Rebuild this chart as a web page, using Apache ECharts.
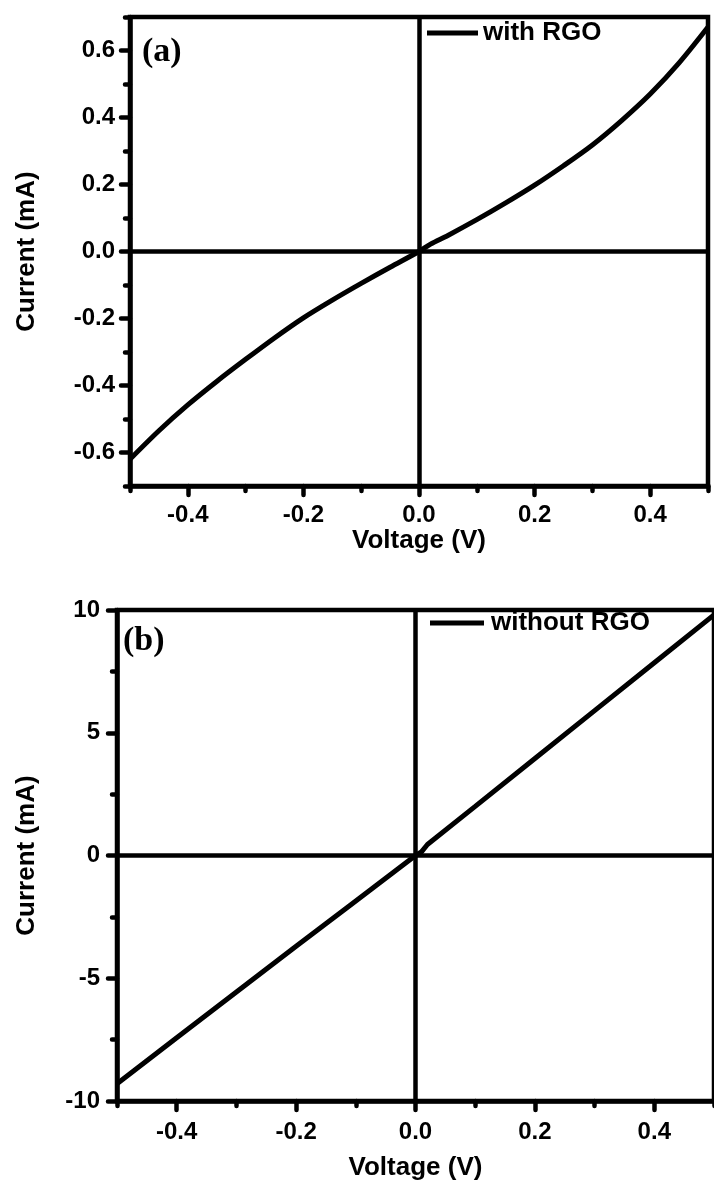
<!DOCTYPE html>
<html>
<head>
<meta charset="utf-8">
<script src="https://cdn.jsdelivr.net/npm/echarts@6/dist/echarts.min.js"></script>
<style>
html,body{margin:0;padding:0;background:#fff;}
#main{width:714px;height:1193px;}
</style>
</head>
<body>
<div id="main"></div>
<script>
// ---- data ----
const voltageA = [-0.5,-0.45,-0.4,-0.35,-0.3,-0.25,-0.2,-0.15,-0.1,-0.05,0,0.02,0.05,0.1,0.15,0.2,0.25,0.3,0.35,0.4,0.45,0.5];
const currentA = [-0.62,-0.535,-0.458,-0.388,-0.322,-0.258,-0.198,-0.145,-0.095,-0.047,0,0.022,0.048,0.095,0.145,0.198,0.256,0.318,0.39,0.47,0.563,0.67];
const voltageB = [-0.5,-0.4,-0.3,-0.2,-0.1,0,0.01,0.02,0.1,0.2,0.3,0.4,0.5];
const currentB = [-9.3,-7.42,-5.56,-3.7,-1.85,0,0.15,0.45,2.0,3.95,5.9,7.85,9.8];
const seriesNames = ['with RGO','without RGO'];
const panelLabels = ['(a)','(b)'];
const xMajorTicks = [-0.4,-0.2,0,0.2,0.4];
const xMinorTicks = [-0.5,-0.3,-0.1,0.1,0.3,0.5];
const yMajorTicksA = [-0.6,-0.4,-0.2,0,0.2,0.4,0.6];
const yMinorTicksA = [-0.7,-0.5,-0.3,-0.1,0.1,0.3,0.5,0.7];
const yMajorTicksB = [-10,-5,0,5,10];
const yMinorTicksB = [-7.5,-2.5,2.5,7.5];
const xTitle = 'Voltage (V)';
const yTitle = 'Current (mA)';

const chart = echarts.init(document.getElementById('main'), null, {renderer:'canvas'});
const BLACK = '#000';
const labelFont = {color:BLACK, fontFamily:'Liberation Sans, Arial, sans-serif', fontWeight:'bold', fontSize:24};
const nameFont = {color:BLACK, fontFamily:'Liberation Sans, Arial, sans-serif', fontWeight:'bold', fontSize:26};

const dataA = voltageA.map((v,i)=>[v,currentA[i]]);
const dataB = voltageB.map((v,i)=>[v,currentB[i]]);

function xAxes(gridIndex, nameGap, margin){
  return [
    {type:'value', gridIndex, min:-0.5, max:0.5, position:'bottom',
     name:xTitle, nameLocation:'middle', nameGap, nameTextStyle:nameFont,
     axisLine:{show:true, onZero:false, lineStyle:{color:BLACK, width:4.5}},
     axisTick:{show:true, inside:false, length:9, customValues:xMajorTicks, lineStyle:{color:BLACK, width:4.5, cap:'round'}},
     axisLabel:{show:true, margin, customValues:xMajorTicks, formatter:v=>Number(v).toFixed(1), ...labelFont},
     splitLine:{show:false}},
    {type:'value', gridIndex, min:-0.5, max:0.5, position:'bottom', offset:0,
     axisLine:{show:false, onZero:false},
     axisTick:{show:true, inside:false, length:5, customValues:xMinorTicks, lineStyle:{color:BLACK, width:4.5, cap:'round'}},
     axisLabel:{show:false},
     splitLine:{show:false}}
  ];
}
function yAxes(gridIndex, min, max, major, minor, fmt, nameGap, margin){
  return [
    {type:'value', gridIndex, min, max, position:'left',
     name:yTitle, nameLocation:'middle', nameGap, nameRotate:90, nameTextStyle:nameFont,
     axisLine:{show:true, onZero:false, lineStyle:{color:BLACK, width:4.5}},
     axisTick:{show:true, inside:false, length:9, customValues:major, lineStyle:{color:BLACK, width:4.5, cap:'round'}},
     axisLabel:{show:true, margin, customValues:major, formatter:fmt, ...labelFont},
     splitLine:{show:false}},
    {type:'value', gridIndex, min, max, position:'left', offset:0,
     axisLine:{show:false, onZero:false},
     axisTick:{show:true, inside:false, length:5, customValues:minor, lineStyle:{color:BLACK, width:4.5, cap:'round'}},
     axisLabel:{show:false},
     splitLine:{show:false}}
  ];
}

const zeroLines = {
  silent:true, symbol:['none','none'], label:{show:false},
  lineStyle:{color:BLACK, width:4.5, type:'solid'},
  emphasis:{disabled:true},
  data:[{xAxis:0},{yAxis:0}]
};

const option = {
  backgroundColor:'#fff',
  animation:false,
  title:[
    {text:panelLabels[0], left:142, top:35, padding:0,
     textStyle:{color:BLACK, fontFamily:'Liberation Serif, Times New Roman, serif', fontWeight:'bold', fontSize:34}},
    {text:panelLabels[1], left:123, top:624, padding:0,
     textStyle:{color:BLACK, fontFamily:'Liberation Serif, Times New Roman, serif', fontWeight:'bold', fontSize:34}}
  ],
  legend:[
    {data:[seriesNames[0]], left:427, top:20, padding:0, icon:'rect', itemWidth:51, itemHeight:5, itemGap:5,
     textStyle:{...nameFont, padding:[0,0,0,0]}, selectedMode:false},
    {data:[seriesNames[1]], left:430, top:610, padding:0, icon:'rect', itemWidth:54, itemHeight:5,
     textStyle:{...nameFont, padding:[0,0,0,2]}, selectedMode:false}
  ],
  grid:[
    {left:130, right:6, top:17, bottom:707, show:true, borderColor:BLACK, borderWidth:4.5, backgroundColor:'transparent'},
    {left:117, right:-11, top:610, bottom:92, show:true, borderColor:BLACK, borderWidth:4.5, backgroundColor:'transparent'}
  ],
  xAxis:[...xAxes(0, 38, 17), ...xAxes(1, 54, 19)],
  yAxis:[
    ...yAxes(0, -0.7, 0.7, yMajorTicksA, yMinorTicksA, v=>Number(v).toFixed(1), 90, 15),
    ...yAxes(1, -10, 10, yMajorTicksB, yMinorTicksB, v=>String(Math.round(v)), 77, 17)
  ],
  series:[
    {name:seriesNames[0], type:'line', xAxisIndex:0, yAxisIndex:0, data:dataA, smooth:0.3,
     showSymbol:false, symbol:'none', color:BLACK, lineStyle:{color:BLACK, width:5}, z:3,
     markLine:zeroLines},
    {name:seriesNames[1], type:'line', xAxisIndex:2, yAxisIndex:2, data:dataB,
     showSymbol:false, symbol:'none', color:BLACK, lineStyle:{color:BLACK, width:5}, z:3,
     markLine:zeroLines}
  ]
};
chart.setOption(option);
</script>
</body>
</html>
